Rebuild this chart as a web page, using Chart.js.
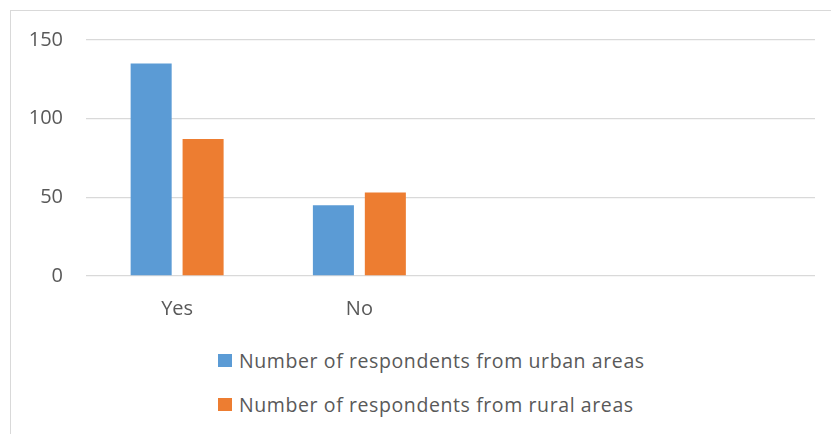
<!DOCTYPE html>
<html>
<head>
<meta charset="utf-8">
<script src="https://cdn.jsdelivr.net/npm/chart.js@4/dist/chart.umd.min.js"></script>
<style>
  html,body{margin:0;padding:0;background:#fff;}
  body{width:831px;height:434px;overflow:hidden;position:relative;font-family:'Open Sans',sans-serif;}
  .frame{position:absolute;left:10px;top:10px;width:860px;height:460px;border:1px solid #d9d9d9;box-sizing:border-box;}
  .chart-wrap{position:absolute;left:0;top:0;width:831px;height:330px;}
  .legend{position:absolute;left:218px;top:345px;color:#595959;font-size:19.5px;letter-spacing:0.6px;}
  .legend .item{display:flex;align-items:center;height:30px;margin-bottom:14px;white-space:nowrap;}
  .legend .box{width:14px;height:13px;margin-right:7px;}
</style>
</head>
<body>
<div class="frame"></div>
<div class="chart-wrap"><canvas id="c"></canvas></div>
<div class="legend" id="legend"></div>
<script>
const categories = ['Yes', 'No', '', ''];
const urban = [135, 45, null, null];
const rural = [87, 53, null, null];
const yTicks = [0, 50, 100, 150];

const p = { blue:'#5b9bd5', orange:'#ed7d31', text:'#595959', grid:'#d9d9d9' };
const font = { family:"'Open Sans', sans-serif", size:20 };

const chart = new Chart(document.getElementById('c'), {
  type:'bar',
  data:{
    labels: categories,
    datasets:[
      { label:'Number of respondents from urban areas', data:urban, backgroundColor:p.blue },
      { label:'Number of respondents from rural areas', data:rural, backgroundColor:p.orange }
    ]
  },
  options:{
    responsive:true,
    maintainAspectRatio:false,
    animation:false,
    datasets:{ bar:{ categoryPercentage:0.57, barPercentage:0.79 } },
    layout:{ padding:{ top:40, right:16, left:0, bottom:0 } },
    plugins:{ legend:{ display:false }, tooltip:{ enabled:false } },
    scales:{
      x:{
        grid:{ display:false },
        border:{ display:false },
        ticks:{ color:p.text, font, padding:13, maxRotation:0 },
        afterFit(s){ s.height = 54; }
      },
      y:{
        min:0, max:150,
        afterBuildTicks(s){ s.ticks = yTicks.map(v => ({ value:v })); },
        grid:{ color:p.grid, lineWidth:1.3, drawTicks:false },
        border:{ display:false },
        ticks:{ color:p.text, font, padding:23 },
        afterFit(s){ s.width = 86; }
      }
    }
  }
});

const legend = document.getElementById('legend');
chart.data.datasets.forEach(d => {
  legend.insertAdjacentHTML('beforeend',
    `<div class="item"><span class="box" style="background:${d.backgroundColor}"></span>${d.label}</div>`);
});
</script>
</body>
</html>
